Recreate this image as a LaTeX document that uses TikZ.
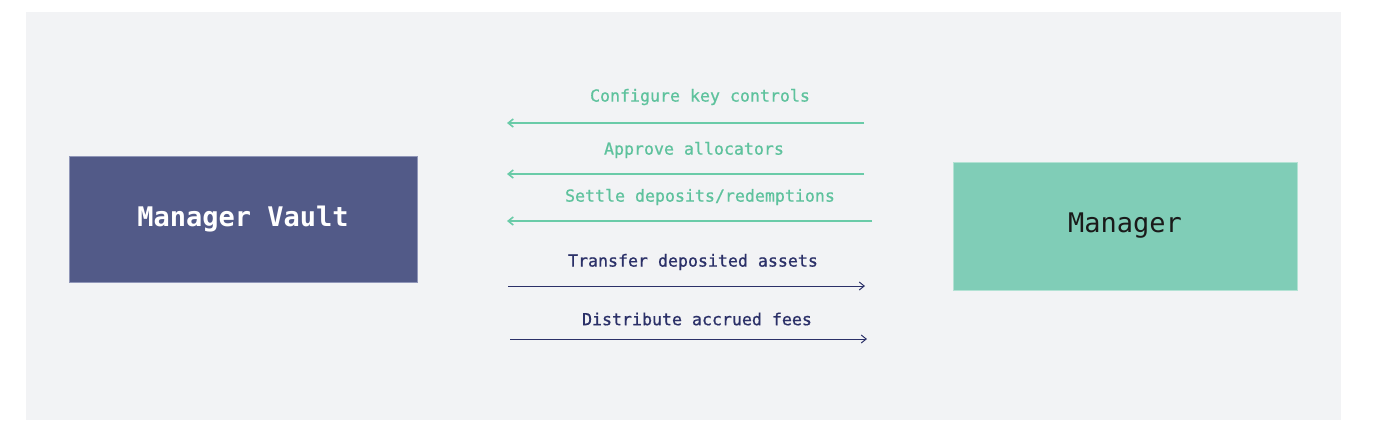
\documentclass[tikz,border=0pt]{standalone}
\usepackage{fontspec}
\setmonofont{DejaVu Sans Mono}
\newfontfamily\callfont[FakeBold=0.8]{DejaVu Sans Mono}
\usetikzlibrary{arrows.meta,positioning}
\definecolor{canvas}{HTML}{F2F3F5}
\definecolor{vaultfill}{HTML}{525A88}
\definecolor{vaultline}{HTML}{9096B8}
\definecolor{mgrfill}{HTML}{80CDB7}
\definecolor{mgrline}{HTML}{B3E2D4}
\definecolor{mint}{HTML}{5EC29D}
\definecolor{mintline}{HTML}{6ACBA8}
\definecolor{navy}{HTML}{2B3068}
\definecolor{ink}{HTML}{1A1A1A}

\begin{document}
\begin{tikzpicture}[
  x=1pt, y=-1pt,
  actor/.style={rectangle, line width=.8pt, inner sep=0pt,
                font=\ttfamily\fontsize{27}{30}\selectfont},
  call/.style={font=\callfont\fontsize{16.6}{20}\selectfont, inner sep=1pt},
  ctl/.style={-{Straight Barb[length=5pt, width=8pt]}, draw=mintline, line width=1.6pt},
  flow/.style={-{Straight Barb[length=5pt, width=8pt]}, draw=navy, line width=1pt},
]
\useasboundingbox (0,0) rectangle (1377,440);
\fill[canvas] (26,12) rectangle (1341,420);

%% ================= the two parties =================
\node[actor, draw=vaultline, fill=vaultfill, text=white,
      minimum width=348pt, minimum height=126pt] (vault) at (243,219)
  {\bfseries Manager Vault};
\node[actor, draw=mgrline, fill=mgrfill, text=ink,
      minimum width=344pt, minimum height=128pt] (mgr) at (1125,226)
  {\raisebox{-3pt}{Manager}};

%% ================= manager -> vault =================
\foreach \n/\y/\xr in {cfg/123/864, apr/174/864, stl/221/872} {
  \coordinate (\n R) at (\xr,\y);
  \coordinate (\n L) at (507,\y);
  \draw[ctl] (\n R) -- (\n L);
}
\node[call, text=mint] (cfgtxt) at (700,97)  {Configure key controls};
\node[call, text=mint] (aprtxt) at (694,150) {Approve allocators};
\node[call, text=mint] (stltxt) at (700,197) {Settle deposits/redemptions};

%% ================= vault -> manager =================
\foreach \n/\y/\xl/\xr in {trf/286/508/865, dst/339/510/867} {
  \coordinate (\n L) at (\xl,\y);
  \coordinate (\n R) at (\xr,\y);
  \draw[flow] (\n L) -- (\n R);
}
\node[call, text=navy] (trftxt) at (693,262) {Transfer deposited assets};
\node[call, text=navy] (dsttxt) at (697,319) {Distribute accrued fees};

\end{tikzpicture}
\end{document}
